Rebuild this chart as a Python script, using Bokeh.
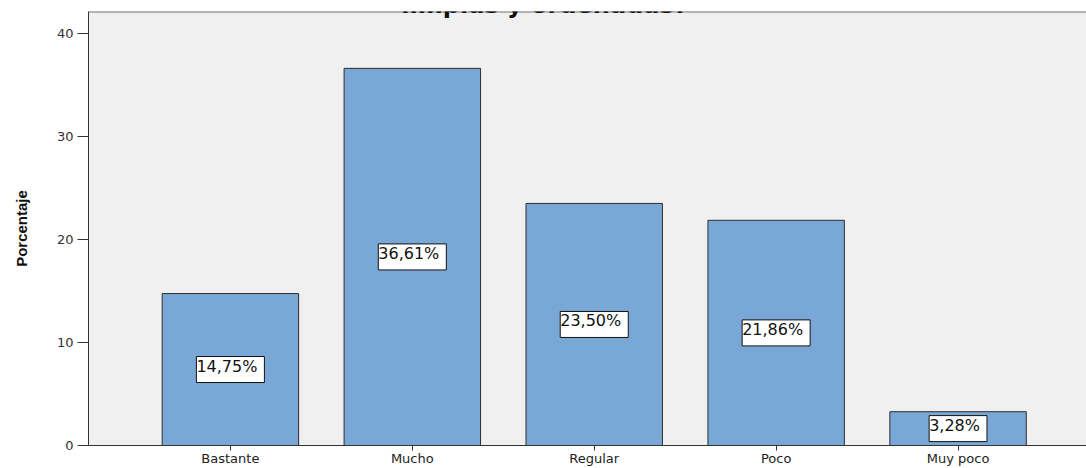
from bokeh.plotting import figure
from bokeh.models import (ColumnDataSource, Range1d, FixedTicker, Label, Span)
from bokeh.embed import file_html
from bokeh.resources import INLINE

# Survey answers and their share of respondents (%)
categories = ["Bastante", "Mucho", "Regular", "Poco", "Muy poco"]
porcentajes = [14.75, 36.61, 23.50, 21.86, 3.28]
y_ticks = [0, 10, 20, 30, 40]
title_line = "limpias y ordenadas?"

positions = list(range(len(categories)))
src = ColumnDataSource(dict(x=positions, pct=porcentajes))

W, H = 1086, 468
FRAME_LEFT, FRAME_TOP = 88, 11
Y_MAX = 42.13
p = figure(width=W, height=H, output_backend="svg", toolbar_location=None,
           x_range=Range1d(-0.78, 4.706), y_range=Range1d(0, Y_MAX),
           min_border_left=FRAME_LEFT, min_border_right=0,
           min_border_top=FRAME_TOP, min_border_bottom=0)
p.background_fill_color = "#f0f0f0"
p.border_fill_color = "white"
p.outline_line_color = None
p.grid.visible = False

p.vbar(x="x", top="pct", width=0.75, source=src,
       fill_color="#79a8d6", line_color="#2e2e2e", line_width=1)

# boxed value labels at mid-height of each bar
for xi, v in zip(positions, porcentajes):
    p.add_layout(Label(x=xi, y=v / 2, text=f"{v:.2f}%".replace(".", ","),
                       text_align="center", text_baseline="middle",
                       text_font="DejaVu Sans", text_font_size="16px",
                       text_color="#111111",
                       background_fill_color="white",
                       border_line_color="#111111", border_line_width=1,
                       padding=(0, 7, 0, 7)))

# frame top edge
p.add_layout(Span(location=Y_MAX, dimension="width",
                  line_color="#777777", line_width=2))

# Y axis
ya = p.yaxis[0]
ya.ticker = FixedTicker(ticks=y_ticks)
ya.minor_tick_line_color = None
ya.major_tick_out = 11
ya.major_tick_in = 0
ya.major_label_standoff = 4
ya.axis_line_color = "#333333"
ya.major_tick_line_color = "#333333"
ya.major_label_text_font = "DejaVu Sans"
ya.major_label_text_font_size = "13px"
ya.major_label_text_color = "#333333"
ya.axis_label = "Porcentaje"
ya.axis_label_text_font = "Liberation Sans"
ya.axis_label_text_font_style = "bold"
ya.axis_label_text_font_size = "15px"
ya.axis_label_text_color = "#111111"
ya.axis_label_standoff = 24

# X axis
xa = p.xaxis[0]
xa.ticker = FixedTicker(ticks=positions)
xa.major_label_overrides = {i: c for i, c in zip(positions, categories)}
xa.minor_tick_line_color = None
xa.major_tick_out = 5
xa.major_tick_in = 0
xa.major_label_standoff = 0
xa.axis_line_color = "#333333"
xa.major_tick_line_color = "#333333"
xa.major_label_text_font = "DejaVu Sans"
xa.major_label_text_font_size = "13px"
xa.major_label_text_line_height = 0.9
xa.major_label_text_color = "#222222"

# Title line running off the top of the canvas
p.add_layout(Label(x=544 - FRAME_LEFT, y=Y_MAX + 0.62, x_units="screen",
                   y_units="data", text=title_line, text_align="center",
                   text_baseline="alphabetic", text_font="DejaVu Sans",
                   text_font_style="bold", text_font_size="24px",
                   text_color="#111111"))

open("out.html", "w").write(file_html(p, INLINE))
